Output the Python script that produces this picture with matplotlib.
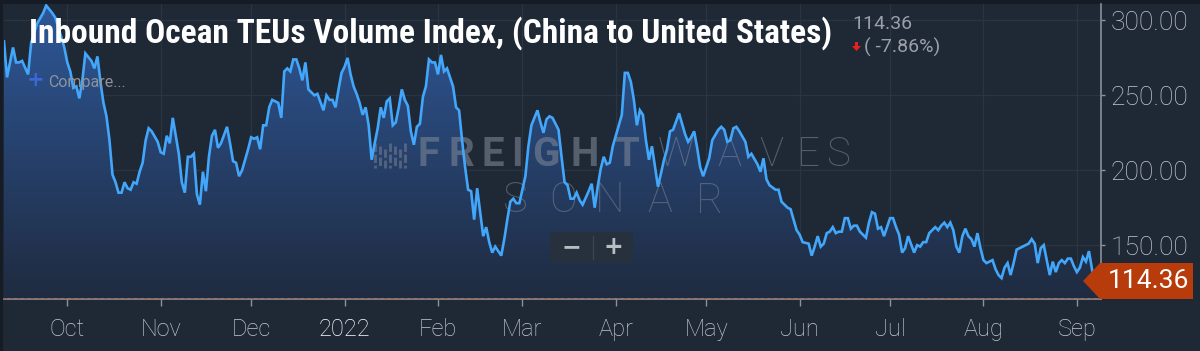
import numpy as np
import matplotlib
matplotlib.use('Agg')
import matplotlib.pyplot as plt
from matplotlib.colors import LinearSegmentedColormap
from matplotlib.patches import Polygon, Rectangle

# datos (indice diario, dias desde 2021-09-10)
start = np.datetime64('2021-09-10')

day_offset = [
    0, 1, 3, 4, 5, 6, 8, 9, 11, 13, 14, 16, 17, 19, 20, 21, 22, 23, 24, 25,
    26, 27, 29, 30, 31, 32, 33, 34, 35, 36, 37, 38, 39, 40, 41, 42, 43, 44, 45, 46,
    47, 48, 49, 51, 52, 53, 54, 55, 56, 57, 58, 59, 60, 61, 62, 63, 64, 65, 66, 67,
    68, 69, 70, 71, 72, 74, 75, 76, 77, 78, 79, 81, 82, 83, 84, 85,
    86, 87, 88, 89, 91, 92, 93, 94, 95, 96, 97, 98, 99, 100, 101, 103, 104, 106, 107, 108,
    109, 110, 111, 112, 113, 114, 115, 116, 117, 118, 119, 120, 121, 122, 123, 124, 125, 126, 127, 128,
    129, 130, 131, 132, 133, 134, 135, 136, 137, 138, 139, 140, 141, 142, 143, 144, 145, 146, 147, 149,
    150, 151, 152, 153, 154, 155, 156, 157, 159, 160, 161, 162, 163, 164, 165, 166, 167, 168, 169, 170,
    171,
    173, 174, 175, 177, 178, 179, 180, 181, 182, 184, 185, 186, 187, 188, 189, 190, 191, 192, 194, 195,
    196, 197, 198, 199, 200, 201, 202, 204, 205, 206, 207, 208, 209, 210, 211, 212, 213, 214, 215, 217,
    218, 219, 220, 221, 222, 224, 225, 226, 227, 228, 229, 230, 231, 232, 234, 235, 237, 238, 239, 240,
    241, 242, 243, 244, 246, 247, 248, 250, 251, 252, 253, 254, 256, 257, 258, 260, 261, 262, 263, 264,
    265, 267, 268, 269, 270, 271, 272, 273, 274, 275, 276, 277, 278, 279, 280, 281, 282, 283, 284, 285,
    286, 287, 288, 289, 290, 291, 292, 293, 294, 295, 296, 297, 298, 299, 300, 302, 303, 304, 305, 306,
    307, 308, 309, 310, 311, 312, 313, 314, 315, 316, 317, 318, 319, 320, 321, 322, 323, 324, 325, 326,
    328, 329, 330, 331, 332, 333, 334, 335, 336, 337, 339, 340, 341, 342, 343, 344, 345, 346, 347, 348,
    349, 350, 351, 352, 353, 354, 355, 356, 357, 358, 359, 360, 361, 362, 364,
]

teu_index = [
    286, 262, 282, 272, 272, 273, 264, 285, 298, 305, 310, 305, 302, 289, 282, 272, 266, 255, 256, 248,
    260, 278, 273, 268, 276, 259, 245, 236, 220, 197, 192, 185, 185, 192, 188, 187, 192, 191, 199, 205,
    220, 228, 226, 219, 212, 211, 223, 218, 235, 223, 211, 192, 185, 209, 209, 211, 184, 177, 199, 186,
    209, 223, 227, 215, 218, 229, 218, 206, 205, 196, 200, 214, 222, 221, 222, 214,
    230, 230, 242, 247, 245, 235, 266, 268, 266, 274, 274, 268, 260, 272, 254, 250, 251, 240, 250, 247,
    247, 242, 254, 265, 269, 275, 264, 256, 251, 245, 237, 242, 230, 207, 218, 228, 242, 235, 246, 248,
    230, 232, 242, 254, 247, 243, 226, 217, 229, 231, 249, 256, 274, 272, 272, 264, 277, 266, 268, 256,
    242, 240, 220, 202, 187, 186, 167, 188, 156, 162, 152, 145, 149, 146, 143, 154, 167, 179, 181, 178,
    178,
    196, 216, 230, 240, 232, 225, 234, 236, 235, 227, 209, 192, 190, 181, 181, 185, 180, 177, 186, 191,
    175, 189, 201, 209, 204, 205, 216, 230, 237, 265, 265, 259, 247, 230, 240, 237, 220, 207, 216, 189,
    198, 207, 214, 226, 227, 238, 231, 224, 219, 222, 226, 215, 202, 196, 208, 220, 227, 229, 227, 219,
    220, 228, 229, 226, 219, 209, 211, 204, 199, 208, 194, 190, 187, 187, 179, 175, 174, 167, 160, 157,
    152, 151, 143, 149, 156, 149, 151, 158, 159, 162, 158, 159, 159, 168, 168, 161, 163, 163, 159, 157,
    155, 165, 172, 171, 161, 162, 156, 162, 168, 168, 162, 157, 145, 148, 156, 145, 150, 149, 152, 152,
    158, 160, 162, 160, 163, 165, 162, 165, 160, 149, 145, 156, 161, 156, 154, 149, 158, 148, 140, 138,
    140, 134, 130, 128, 135, 138, 130, 138, 147, 148, 150, 151, 154, 151, 138, 148, 150, 140, 130, 139,
    132, 138, 140, 138, 141, 141, 136, 132, 135, 142, 139, 146, 134, 124, 114.36,
]

last_value = 114.36
change_pct = -7.86
y_ticks = [150, 200, 250, 300]
month_starts = ['2021-10-01', '2021-11-01', '2021-12-01', '2022-01-01', '2022-02-01', '2022-03-01',
                '2022-04-01', '2022-05-01', '2022-06-01', '2022-07-01', '2022-08-01', '2022-09-01']
month_labels = ['Oct', 'Nov', 'Dec', '2022', 'Feb', 'Mar', 'Apr', 'May', 'Jun', 'Jul', 'Aug', 'Sep']
title = 'Inbound Ocean TEUs Volume Index, (China to United States)'

dates = start + np.array(day_offset).astype('timedelta64[D]')
vals = np.array(teu_index, dtype=float)
ticks_x = np.array(month_starts, dtype='datetime64[D]')

W, H = 1200, 351
bg = '#1f2835'
grey = '#c3c8cf'
wm = '#7a8494'
fonts = ['Roboto', 'DejaVu Sans']

def px(x, y):
    # pixeles de la imagen -> coordenadas de figura
    return x / W, 1 - y / H

fig = plt.figure(figsize=(12, 3.51), dpi=100, facecolor='#161c25')
fig.patches.append(Rectangle(px(3, 351), (W - 3) / W, (351 - 4) / H, transform=fig.transFigure,
                             facecolor=bg, edgecolor='none', zorder=-5))

ymin, ymax = last_value, 311
l, t = px(4, 4)
r, b = px(1101, 298.5)
ax = fig.add_axes([l, b, r - l, t - b])
ax.set_facecolor(bg)

# relleno con degradado
fill = ax.fill_between(dates, vals, ymin, facecolor='none', edgecolor='none')
cmap = LinearSegmentedColormap.from_list('g', ['#1f2b40', '#2e5899'])
grad = ax.imshow(np.linspace(0, 1, 256).reshape(-1, 1), cmap=cmap, aspect='auto', origin='lower',
                 extent=[dates[0], dates[-1], ymin, ymax], zorder=1, interpolation='bicubic')
grad.set_clip_path(fill.get_paths()[0], transform=ax.transData)
ax.plot(dates, vals, color='#42a6fa', lw=1.9, zorder=4, solid_joinstyle='miter')
ax.axhline(last_value, color='#c24a1c', lw=1.2, ls=(0, (2, 2)), zorder=3)

ax.set_xlim(dates[0], dates[-1])
ax.set_ylim(ymin, ymax)

ax.set_xticks(ticks_x)
ax.set_xticklabels(month_labels)
ax.set_yticks(y_ticks)
ax.set_yticklabels(['%.2f' % v for v in y_ticks])
ax.yaxis.tick_right()
ax.tick_params(axis='x', colors='#8c929a', length=5, width=1, pad=9, labelcolor=grey, labelsize=17)
ax.tick_params(axis='y', colors='#8c929a', length=3, width=1, pad=4, labelcolor=grey, labelsize=19)
for lab in ax.get_xticklabels() + ax.get_yticklabels():
    lab.set_family(fonts)
    lab.set_fontweight('light')
ax.get_xticklabels()[3].set_color('white')

for s in ['top', 'left']:
    ax.spines[s].set_visible(False)
for s in ['right', 'bottom']:
    ax.spines[s].set_color('#8a9098')
    ax.spines[s].set_linewidth(1.2)
ax.grid(True, color='#2a3442', lw=0.9, zorder=0)
ax.set_axisbelow(True)

# marca de agua (entre el relleno y la linea), letras espaciadas como en la referencia
ft = fig.transFigure
for i, xx in enumerate([375, 380, 385, 390, 395, 400, 405]):
    x0, y0 = px(xx, 143 + (i % 3) * 3)
    x1, y1 = px(xx, 168)
    ax.plot([x0, x1], [y0, y1], transform=ft, color=wm, lw=2.0, ls=(0, (3, 1)), alpha=0.55,
            zorder=2, clip_on=False)
for ch, xx in zip('FREIGHT', [428, 461, 493, 517, 546, 585, 627]):
    ax.text(*px(xx, 155), ch, transform=ft, fontsize=29, fontweight='bold', color=wm, alpha=0.6,
            va='center', ha='center', family=fonts, zorder=2)
for ch, xx in zip('WAVES', [676, 729, 771, 808, 838]):
    ax.text(*px(xx, 155), ch, transform=ft, fontsize=29, fontweight='light', color=wm, alpha=0.6,
            va='center', ha='center', family=fonts, zorder=2)
for ch, xx in zip('SONAR', [515, 563, 610, 660, 710]):
    ax.text(*px(xx, 201), ch, transform=ft, fontsize=30, fontweight='light', color=wm, alpha=0.55,
            va='center', ha='center', family=fonts, zorder=2)

# controles de zoom
fig.patches.append(Rectangle(px(550, 263), 83 / W, 31 / H, transform=ft,
                             facecolor='#28313d', edgecolor='none', alpha=0.95, zorder=4))
fig.add_artist(plt.Line2D([593 / W, 593 / W], [1 - 236 / H, 1 - 259 / H], transform=ft,
                          color='#3a4452', lw=1, zorder=5))
fig.text(*px(571, 247), '\u2212', fontsize=17, fontweight='bold', color='#b8bdc4', ha='center',
         va='center', zorder=5)
fig.text(*px(613, 247), '+', fontsize=17, fontweight='bold', color='#b8bdc4', ha='center',
         va='center', zorder=5)

# titulo y valores
tt = fig.text(*px(29, 33), title, fontsize=24, fontweight='bold', color='white', va='center',
              ha='left', family=['Roboto Condensed', 'Liberation Sans Narrow', 'Roboto', 'DejaVu Sans'],
              fontstretch='condensed', zorder=6)
fig.text(*px(852, 24), '%.2f' % last_value, fontsize=14, color='#9aa0a8', va='center', ha='left',
         family=fonts, zorder=6)
fig.text(*px(864, 47), '( %.2f%%)' % change_pct, fontsize=14, color='#9aa0a8', va='center', ha='left',
         family=fonts, zorder=6)
arrow = [(855, 42), (858, 42), (858, 46), (861, 46), (856.5, 51), (852, 46), (855, 46)]
fig.patches.append(Polygon([px(x, y) for x, y in arrow], closed=True, transform=ft,
                           facecolor='#e8211c', edgecolor='none', zorder=6))
fig.text(*px(36, 80), '+', fontsize=15, fontweight='bold', color='#3a68d8', va='center', ha='center',
         zorder=6)
fig.text(*px(48, 83), 'Compare...', fontsize=11.5, color='#8d939b', va='center', ha='left',
         family=fonts, zorder=6)

# etiqueta del ultimo valor
tag = [(1083, 281), (1100, 263), (1193, 263), (1193, 299), (1100, 299)]
fig.patches.append(Polygon([px(x, y) for x, y in tag], closed=True, transform=ft,
                           facecolor='#b83b0c', edgecolor='none', zorder=7))
fig.text(*px(1148, 281), '%.2f' % last_value, fontsize=19, color='white', va='center', ha='center',
         family=fonts, zorder=8)

# ajustar ancho del titulo a la referencia
fig.canvas.draw()
rend = fig.canvas.get_renderer()
w = tt.get_window_extent(rend).width
tt.set_fontsize(tt.get_fontsize() * 804 / w)

fig.savefig('out.png', dpi=100, facecolor=fig.get_facecolor())
